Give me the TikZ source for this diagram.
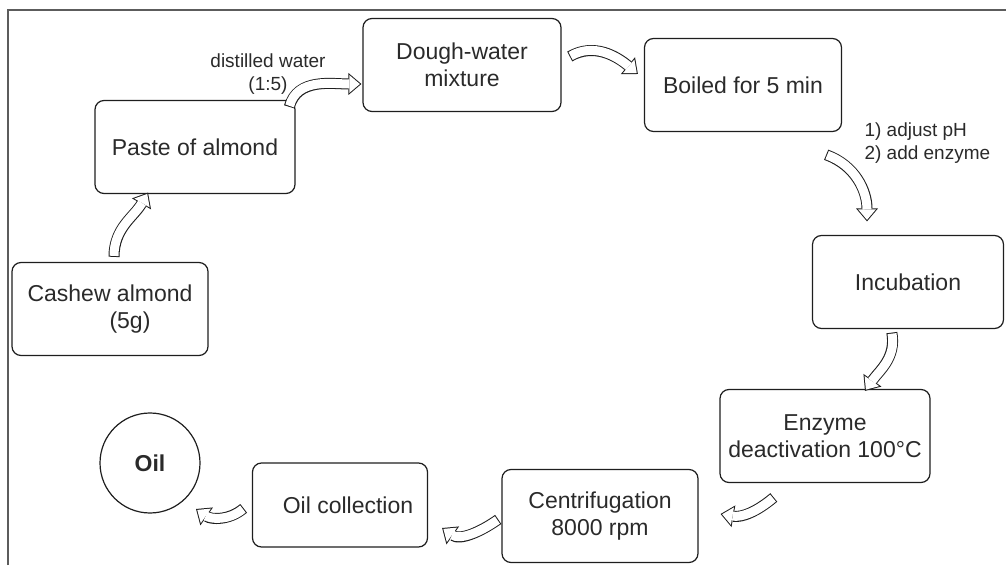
\documentclass[tikz,border=0pt]{standalone}
\usepackage{fontspec}
\setmainfont{Liberation Sans}
\usepackage{xcolor}
\usepackage{tikz}
\usetikzlibrary{arrows.meta}
\definecolor{inkgrey}{HTML}{2A2A2A}
\definecolor{edgegrey}{HTML}{1E1E1E}
\definecolor{framegrey}{HTML}{5C5C5C}

\begin{document}
\begin{tikzpicture}[
    x=1pt, y=1pt,
    every node/.style={font=\fontsize{23}{27}\selectfont, align=center, text=inkgrey},
    stepbox/.style={
      draw=edgegrey, line width=1.2pt, rounded corners=9pt, inner sep=0pt,
      minimum width=#1, minimum height=93pt
    },
    stepbox/.default=196pt,
    endcircle/.style={draw=edgegrey, line width=1.2pt, circle, inner sep=0pt,
      minimum size=100pt, font=\fontsize{23}{27}\selectfont\bfseries},
    note/.style={font=\fontsize{19}{23}\selectfont},
    flowedge/.style={edgegrey, line width=11pt, shorten <=-1pt,
      -{Triangle[length=13pt, width=22pt, line width=0pt]}},
    flowfill/.style={white, line width=9pt, shorten >=1.55pt,
      -{Triangle[length=10.45pt, width=17.7pt, line width=0pt]}}
  ]

  \useasboundingbox (0,0) rectangle (1006,565);

  % --- cadre ---------------------------------------------------------------
  \draw[framegrey, line width=1.3pt] (8,0) -- (8,555) -- (1006,555);

  % --- etapes du procede ---------------------------------------------------
  \node[stepbox]       (cashew)  at (110,256) {Cashew almond\\\hspace*{40pt}(5g)};
  \node[stepbox=200pt] (paste)   at (195,418) {Paste of almond};
  \node[stepbox=198pt] (dough)   at (462,500) {Dough-water\\mixture};
  \node[stepbox=197pt] (boiled)  at (743,480) {Boiled for 5 min};
  \node[stepbox=191pt] (incub)   at (908,283) {Incubation};
  \node[stepbox=210pt] (enz)     at (825,129) {Enzyme\\deactivation 100°C};
  \node[stepbox]       (centri)  at (600,49)  {Centrifugation\\8000 rpm};
  \node[stepbox=175pt, minimum height=84pt] (collect) at (340,60) {\hspace*{16pt}Oil collection};
  \node[endcircle]     (oil)     at (150,102) {Oil};

  % --- annotations ---------------------------------------------------------
  \node[note] (water) at (268,491) {distilled water\\(1:5)};
  \node[note, align=left, anchor=west] (enzadd) at (861,421.5) {1) adjust pH\\2) add enzyme};

  % --- fleches creuses entre les etapes ------------------------------------
  \coordinate (t1) at ([shift={(4,6)}]cashew.north);
  \coordinate (h1) at ([shift={(-47,1.5)}]paste.south);
  \coordinate (t2) at ([shift={(-6,-6)}]paste.north east);
  \coordinate (h2) at ([shift={(-1,-19)}]dough.west);
  \coordinate (t3) at ([shift={(9,9)}]dough.east);
  \coordinate (h3) at ([shift={(-6,11)}]boiled.west);
  \coordinate (t4) at ([shift={(-15,-23)}]boiled.south east);
  \coordinate (h4) at ([shift={(-41,13.5)}]incub.north);
  \coordinate (t5) at ([shift={(-16,-4.5)}]incub.south);
  \coordinate (h5) at ([shift={(40,-2)}]enz.north);
  \coordinate (t6) at ([shift={(-52,-15)}]enz.south);
  \coordinate (h6) at ([shift={(22,2)}]centri.east);
  \coordinate (t7) at ([shift={(-4,-4)}]centri.west);
  \coordinate (h7) at ([shift={(14,-23)}]collect.east);
  \coordinate (t8) at ([shift={(-9,-4)}]collect.west);
  \coordinate (h8) at ([shift={(46,-46)}]oil.center);

  \foreach \s/\o/\i/\e in {t1/90/240/h1, t2/75/180/h2, t3/30/140/h3, t4/-20/90/h4,
                           t5/-80/55/h5, t6/-140/-10/h6, t7/215/-35/h7, t8/220/-35/h8}
    {\draw[flowedge] (\s) to[out=\o,in=\i] (\e);
     \draw[flowfill] (\s) to[out=\o,in=\i] (\e);}

\end{tikzpicture}
\end{document}
